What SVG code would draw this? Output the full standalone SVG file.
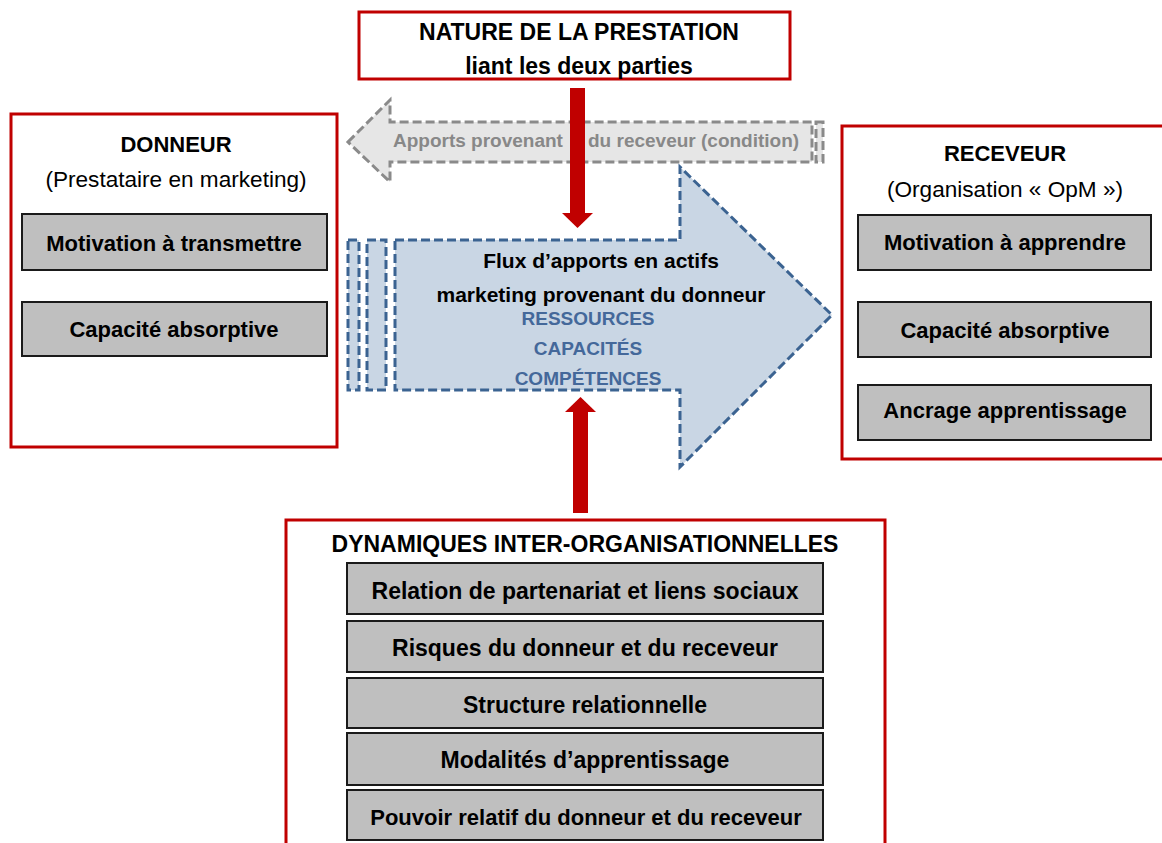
<svg xmlns="http://www.w3.org/2000/svg" width="1162" height="843" viewBox="0 0 1162 843">
<style>
text{font-family:"Liberation Sans",Arial,sans-serif;text-anchor:middle}
.b{font-weight:bold;fill:#000}
.r{fill:#000}
.frame{fill:#fff;stroke:#c00000;stroke-width:3}
.item{fill:#bfbfbf;stroke:#1a1a1a;stroke-width:2}
.blue{fill:#c9d6e4;stroke:#3b6391;stroke-width:3;stroke-dasharray:9 4}
.grey{fill:#e6e6e6;stroke:#8a8a8a;stroke-width:3;stroke-dasharray:9 4}
.lbl{font-weight:bold;fill:#44689a;font-size:19px}
.red{fill:#c00000}
</style>
<rect width="1162" height="843" fill="#fff"/>

<g id="donneur">
<rect class="frame" x="11" y="114" width="326" height="333"/>
<text class="b" x="176" y="152" font-size="22">DONNEUR</text>
<text class="r" x="176" y="187" font-size="22.6">(Prestataire en marketing)</text>
<rect class="item" x="22" y="214" width="305" height="56"/>
<text class="b" x="174" y="251" font-size="22">Motivation à transmettre</text>
<rect class="item" x="22" y="302" width="305" height="54"/>
<text class="b" x="174" y="337" font-size="22">Capacité absorptive</text>
</g>

<g id="receveur">
<rect class="frame" x="842" y="126" width="330" height="333"/>
<text class="b" x="1005" y="161" font-size="22">RECEVEUR</text>
<text class="r" x="1005" y="197" font-size="22.6">(Organisation « OpM »)</text>
<rect class="item" x="858" y="215" width="293" height="55"/>
<text class="b" x="1005" y="250" font-size="22">Motivation à apprendre</text>
<rect class="item" x="858" y="302" width="293" height="55"/>
<text class="b" x="1005" y="338" font-size="22">Capacité absorptive</text>
<rect class="item" x="858" y="385" width="293" height="55"/>
<text class="b" x="1005" y="418" font-size="22">Ancrage apprentissage</text>
</g>

<g id="apports-receveur">
<polygon class="grey" points="348,142 390,100 390,122 812,122 812,162 390,162 390,182"/>
<rect class="grey" x="816" y="122" width="7" height="40"/>
<text font-weight="bold" fill="#888" font-size="19" style="text-anchor:start"><tspan x="393" y="147">Apports provenant</tspan><tspan x="588" y="147">du receveur (condition)</tspan></text>
</g>

<g id="flux-donneur">
<rect class="blue" x="348" y="240" width="11" height="150"/>
<rect class="blue" x="367" y="240" width="19" height="150"/>
<polygon class="blue" points="395,240 680,240 680,167 832,315 680,467 680,390 395,390"/>
<text class="b" x="601" y="268" font-size="21">Flux d’apports en actifs</text>
<text class="b" x="601" y="302" font-size="21">marketing provenant du donneur</text>
<text class="lbl" x="588" y="325">RESSOURCES</text>
<text class="lbl" x="588" y="355">CAPACITÉS</text>
<text class="lbl" x="588" y="385">COMPÉTENCES</text>
</g>

<g id="nature">
<rect class="frame" x="359" y="12" width="431" height="67"/>
<text class="b" x="579" y="40" font-size="23">NATURE DE LA PRESTATION</text>
<text class="b" x="579" y="74" font-size="23">liant les deux parties</text>
</g>

<g id="dynamiques">
<rect class="frame" x="286" y="520" width="599" height="340"/>
<text class="b" x="585" y="552" font-size="23">DYNAMIQUES INTER-ORGANISATIONNELLES</text>
<rect class="item" x="347" y="563" width="476" height="51"/>
<text class="b" x="585" y="599" font-size="23">Relation de partenariat et liens sociaux</text>
<rect class="item" x="347" y="621" width="476" height="51"/>
<text class="b" x="585" y="656" font-size="23">Risques du donneur et du receveur</text>
<rect class="item" x="347" y="678" width="476" height="50"/>
<text class="b" x="585" y="713" font-size="23">Structure relationnelle</text>
<rect class="item" x="347" y="733" width="476" height="52"/>
<text class="b" x="585" y="768" font-size="23">Modalités d’apprentissage</text>
<rect class="item" x="347" y="790" width="476" height="50"/>
<text class="b" x="586" y="825" font-size="22">Pouvoir relatif du donneur et du receveur</text>
</g>

<g id="connectors">
<rect class="red" x="570" y="88" width="15" height="126"/>
<polygon class="red" points="562,213 593,213 577.5,228"/>
<rect class="red" x="573" y="411" width="15" height="102"/>
<polygon class="red" points="565,412 596,412 580.5,397"/>
</g>
</svg>
